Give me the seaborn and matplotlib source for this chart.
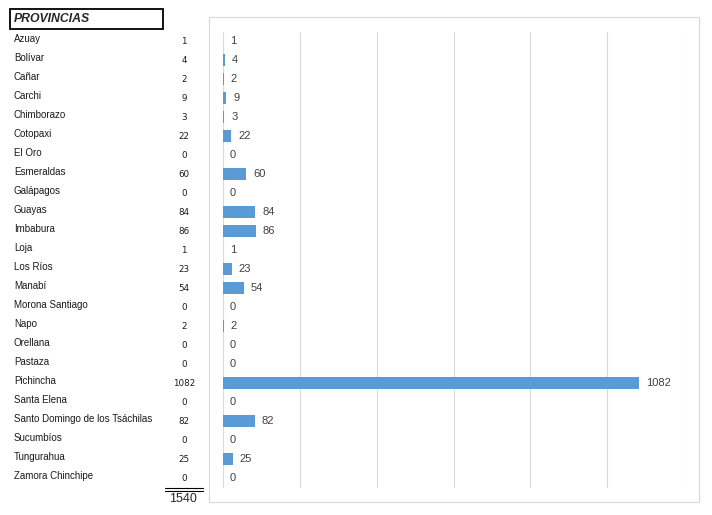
import matplotlib.pyplot as plt
import matplotlib.patches as mpatches
import matplotlib.transforms as mtransforms
import seaborn as sns
import pandas as pd

# Datos de la tabla
provincias = ["Azuay", "Bolívar", "Cañar", "Carchi", "Chimborazo", "Cotopaxi",
              "El Oro", "Esmeraldas", "Galápagos", "Guayas", "Imbabura", "Loja",
              "Los Ríos", "Manabí", "Morona Santiago", "Napo", "Orellana",
              "Pastaza", "Pichincha", "Santa Elena",
              "Santo Domingo de los Tsáchilas", "Sucumbíos", "Tungurahua",
              "Zamora Chinchipe"]
valores = [1, 4, 2, 9, 3, 22, 0, 60, 0, 84, 86, 1, 23, 54, 0, 2, 0, 0, 1082,
           0, 82, 0, 25, 0]
total = sum(valores)

df = pd.DataFrame({"Provincia": provincias, "Valor": valores})

sns.set_style("white")
plt.rcParams["font.family"] = ["Liberation Sans", "DejaVu Sans"]

W, H = 712, 515
fig = plt.figure(figsize=(W / 100, H / 100), dpi=100)

# Zona del gráfico (px -> fracción de figura)
x0, x1 = 223, 684
y_top, y_bot = 31.5, 487.5
ax = fig.add_axes([x0 / W, 1 - y_bot / H, (x1 - x0) / W, (y_bot - y_top) / H])

sns.barplot(data=df, x="Valor", y="Provincia", orient="h", color="#5B9BD5",
            saturation=1, width=0.68, linewidth=0, ax=ax, zorder=3)
ax.set_xlim(0, 1200)
ax.set_ylim(len(provincias) - 0.5, -0.5)
ax.set_xticks(range(0, 1201, 200))
ax.grid(axis="x", color="#d9d9d9", linewidth=0.8)
ax.set_axisbelow(True)
ax.tick_params(left=False, bottom=False, labelleft=False, labelbottom=False)
ax.set_xlabel("")
ax.set_ylabel("")
for s in ax.spines.values():
    s.set_visible(False)
ax.bar_label(ax.containers[0], labels=[str(v) for v in valores], padding=5,
             fontsize=8, color="#404040")

# Borde del gráfico
fig.patches.append(mpatches.Rectangle((209 / W, 1 - 502 / H), 490 / W, 485 / H,
                                      transform=fig.transFigure, fill=False,
                                      edgecolor="#d9d9d9", linewidth=0.8))

# Tabla de la izquierda
trans = mtransforms.blended_transform_factory(fig.transFigure, ax.transData)
for i, (p, v) in enumerate(zip(provincias, valores)):
    ax.text(14 / W, i - 0.12, p, transform=trans, fontsize=7, ha="left",
            va="center", color="#1a1a1a", clip_on=False)
    ax.text(184 / W, i + 0.05, str(v), transform=trans, fontsize=6.3,
            family="DejaVu Sans", ha="center", va="center", color="#1a1a1a",
            clip_on=False)

# Encabezado
fig.patches.append(mpatches.Rectangle((10 / W, 1 - 29 / H), 153 / W, 20 / H,
                                      transform=fig.transFigure, fill=False,
                                      edgecolor="black", linewidth=1.3))
fig.text(14 / W, 1 - 19 / H, "PROVINCIAS", fontsize=8.8, fontweight="bold",
         fontstyle="italic", ha="left", va="center")

# Total con doble subrayado
for yy in (488, 491):
    fig.add_artist(plt.Line2D([165 / W, 203 / W], [1 - yy / H, 1 - yy / H],
                              transform=fig.transFigure, color="black",
                              linewidth=0.8))
fig.text(197 / W, 1 - 499 / H, str(total), fontsize=9, ha="right", va="center")

fig.savefig("out.png", dpi=100)
